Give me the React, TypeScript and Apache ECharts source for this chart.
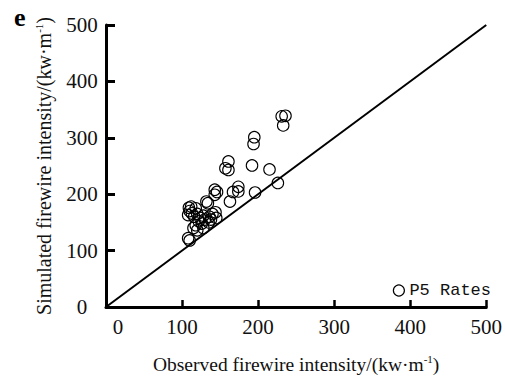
import React, { useEffect, useRef } from "react";
import * as echarts from "echarts";

const observed = [
  231, 236, 233, 195, 194, 161, 157, 161, 192, 215, 226, 196, 174, 174, 167, 163,
  143, 146, 143, 132, 134, 109, 112, 110, 113, 108, 118, 116, 120, 124, 128, 122,
  130, 136, 140, 138, 144, 145, 126, 118, 115, 120, 108, 110, 128, 135,
];
const simulated = [
  338, 339, 322, 301, 289, 258, 246, 243, 251, 244, 220, 203, 213, 205, 204, 187,
  208, 204, 199, 187, 184, 176, 178, 170, 166, 163, 175, 160, 165, 158, 162, 152,
  155, 160, 165, 155, 168, 158, 148, 145, 140, 136, 122, 118, 140, 150,
];
const lineX = [0, 500];
const lineY = [0, 500];
const axisTicks = [0, 100, 200, 300, 400, 500];
const seriesName = "P5 Rates";

const SERIF = "'Liberation Serif', 'Times New Roman', serif";

export default function App() {
  const ref = useRef<HTMLDivElement>(null);
  useEffect(() => {
    if (!ref.current) return;
    const chart = echarts.init(ref.current, null, { renderer: "svg" });
    const pts = observed.map((x, i) => [x, simulated[i]]);
    const diag = lineX.map((x, i) => [x, lineY[i]]);
    chart.setOption({
      animation: false,
      backgroundColor: "#ffffff",
      grid: { left: 106, right: 13, top: 25, bottom: 69, containLabel: false },
      legend: {
        data: [{ name: seriesName, icon: "circle" }],
        right: 9,
        top: 277,
        itemWidth: 11,
        itemHeight: 11,
        itemGap: 4,
        itemStyle: { color: "rgba(0,0,0,0)", borderColor: "#000", borderWidth: 1.2 },
        textStyle: { fontFamily: "'Liberation Mono', monospace", fontSize: 17, color: "#111" },
      },
      graphic: [
        {
          type: "text",
          left: 14,
          top: 4,
          style: { text: "e", font: "bold 26px " + SERIF, fill: "#000" },
        },
      ],
      xAxis: {
        type: "value",
        min: axisTicks[0],
        max: axisTicks[axisTicks.length - 1],
        interval: 100,
        splitLine: { show: false },
        axisLine: { show: true, onZero: false, lineStyle: { color: "#000", width: 3 } },
        axisTick: { show: true, inside: true, length: 7, lineStyle: { color: "#000", width: 2.5 } },
        axisLabel: {
          margin: 9,
          fontFamily: SERIF,
          fontSize: 21,
          color: "#111",
          formatter: (v: number) => (v === 0 ? "{z|0}" : String(v)),
          rich: { z: { fontFamily: SERIF, fontSize: 21, color: "#111", padding: [0, 0, 0, 24] } },
        },
        name: "{n|Observed firewire intensity/(kw·m}{s|-1}{n|)}",
        nameLocation: "middle",
        nameGap: 46,
        nameTextStyle: {
          rich: {
            n: { fontFamily: SERIF, fontSize: 19.5, color: "#111", lineHeight: 22 },
            s: { fontFamily: SERIF, fontSize: 11, color: "#111", lineHeight: 11, verticalAlign: "top" },
          },
        },
      },
      yAxis: {
        type: "value",
        min: axisTicks[0],
        max: axisTicks[axisTicks.length - 1],
        interval: 100,
        splitLine: { show: false },
        axisLine: { show: true, onZero: false, lineStyle: { color: "#000", width: 3 } },
        axisTick: { show: true, inside: true, length: 9, lineStyle: { color: "#000", width: 3 } },
        axisLabel: {
          margin: 24,
          align: "center",
          fontFamily: SERIF,
          fontSize: 21,
          color: "#111",
        },
        name: "{n|Simulated firewire intensity/(kw·m}{s|-1}{n|)}",
        nameLocation: "middle",
        nameGap: 51,
        nameTextStyle: {
          rich: {
            n: { fontFamily: SERIF, fontSize: 20, color: "#111", lineHeight: 22 },
            s: { fontFamily: SERIF, fontSize: 11, color: "#111", lineHeight: 11, verticalAlign: "top" },
          },
        },
      },
      series: [
        {
          name: "diag",
          type: "line",
          data: diag,
          symbol: "none",
          silent: true,
          lineStyle: { color: "#000", width: 2 },
          z: 1,
        },
        {
          name: seriesName,
          type: "scatter",
          data: pts,
          symbol: "circle",
          symbolSize: 11.5,
          itemStyle: { color: "rgba(0,0,0,0)", borderColor: "#000", borderWidth: 1.1, opacity: 1 },
          z: 2,
        },
      ],
    });
    return () => chart.dispose();
  }, []);
  return <div ref={ref} style={{ width: 505, height: 379, position: "absolute", left: 0, top: 0 }} />;
}
